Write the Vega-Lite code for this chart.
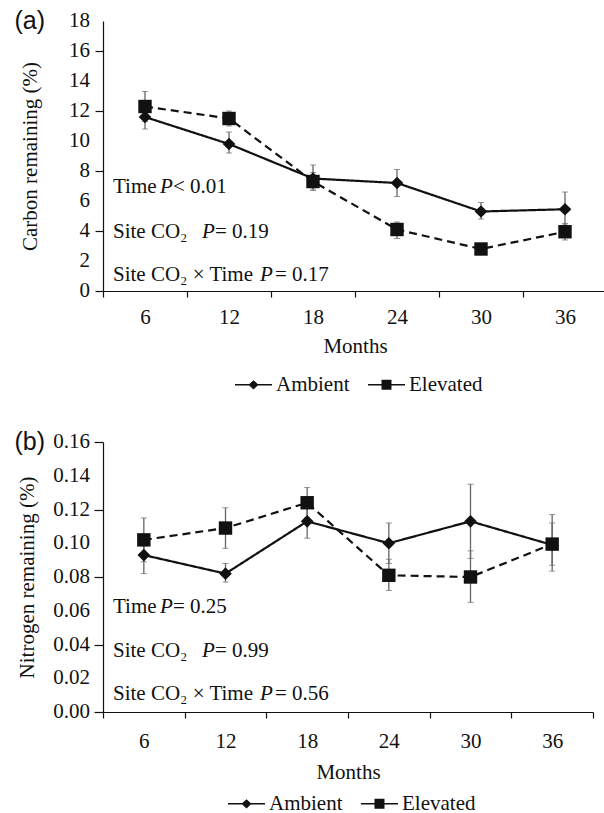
{
  "$schema": "https://vega.github.io/schema/vega-lite/v6.json",
  "background": "white",
  "padding": {"left": 14, "top": 9, "right": 0, "bottom": 0},
  "spacing": 35,
  "config": {
    "font": "Liberation Serif",
    "view": {"stroke": null},
    "axis": {
      "labelFont": "Liberation Serif", "labelFontSize": 21, "labelColor": "#111",
      "titleFont": "Liberation Serif", "titleFontSize": 21, "titleFontWeight": "normal", "titleColor": "#111",
      "domainColor": "#111", "tickColor": "#111", "grid": false, "domainWidth": 1.2, "tickWidth": 1.2
    },
    "legend": {
      "orient": "none", "direction": "horizontal",
      "labelFont": "Liberation Serif", "labelFontSize": 21, "labelColor": "#111",
      "symbolSize": 1369, "labelOffset": 3, "columnPadding": 15,
      "symbolFillColor": "#111", "symbolOpacity": 1
    },
    "text": {"font": "Liberation Serif", "fontSize": 21, "color": "#111", "align": "left", "baseline": "alphabetic"},
    "title": {"font": "Liberation Sans", "fontSize": 25, "fontWeight": "normal", "color": "#111", "anchor": "start", "frame": "bounds"}
  },
  "datasets": {
    "carbon": [
      {"month": 6, "trt": "Ambient", "mean": 11.6, "lo": 10.8, "hi": 12.3},
      {"month": 12, "trt": "Ambient", "mean": 9.8, "lo": 9.2, "hi": 10.6},
      {"month": 18, "trt": "Ambient", "mean": 7.5, "lo": 6.8, "hi": 8.4},
      {"month": 24, "trt": "Ambient", "mean": 7.2, "lo": 6.3, "hi": 8.1},
      {"month": 30, "trt": "Ambient", "mean": 5.3, "lo": 4.8, "hi": 5.9},
      {"month": 36, "trt": "Ambient", "mean": 5.45, "lo": 4.4, "hi": 6.6},
      {"month": 6, "trt": "Elevated", "mean": 12.3, "lo": 11.3, "hi": 13.3},
      {"month": 12, "trt": "Elevated", "mean": 11.5, "lo": 11.0, "hi": 12.0},
      {"month": 18, "trt": "Elevated", "mean": 7.3, "lo": 6.7, "hi": 7.9},
      {"month": 24, "trt": "Elevated", "mean": 4.1, "lo": 3.5, "hi": 4.6},
      {"month": 30, "trt": "Elevated", "mean": 2.8, "lo": 2.5, "hi": 3.1},
      {"month": 36, "trt": "Elevated", "mean": 3.95, "lo": 3.4, "hi": 4.5}
    ],
    "nitrogen": [
      {"month": 6, "trt": "Ambient", "mean": 0.093, "lo": 0.082, "hi": 0.104},
      {"month": 12, "trt": "Ambient", "mean": 0.082, "lo": 0.077, "hi": 0.088},
      {"month": 18, "trt": "Ambient", "mean": 0.113, "lo": 0.103, "hi": 0.121},
      {"month": 24, "trt": "Ambient", "mean": 0.100, "lo": 0.088, "hi": 0.112},
      {"month": 30, "trt": "Ambient", "mean": 0.113, "lo": 0.091, "hi": 0.135},
      {"month": 36, "trt": "Ambient", "mean": 0.099, "lo": 0.087, "hi": 0.112},
      {"month": 6, "trt": "Elevated", "mean": 0.102, "lo": 0.089, "hi": 0.115},
      {"month": 12, "trt": "Elevated", "mean": 0.109, "lo": 0.097, "hi": 0.121},
      {"month": 18, "trt": "Elevated", "mean": 0.124, "lo": 0.115, "hi": 0.133},
      {"month": 24, "trt": "Elevated", "mean": 0.081, "lo": 0.072, "hi": 0.0905},
      {"month": 30, "trt": "Elevated", "mean": 0.080, "lo": 0.065, "hi": 0.0955},
      {"month": 36, "trt": "Elevated", "mean": 0.0995, "lo": 0.0835, "hi": 0.117}
    ],
    "ticksA": [{"v": 0}, {"v": 2}, {"v": 4}, {"v": 6}, {"v": 8}, {"v": 10}, {"v": 12}, {"v": 14}, {"v": 16}, {"v": 18}],
    "ticksB": [{"v": 0}, {"v": 0.02}, {"v": 0.04}, {"v": 0.06}, {"v": 0.08}, {"v": 0.1}, {"v": 0.12}, {"v": 0.14}, {"v": 0.16}]
  },
  "resolve": {
    "scale": {"shape": "independent", "strokeDash": "independent"},
    "legend": {"shape": "independent"}
  },
  "vconcat": [
    {
      "width": 504, "height": 270,
      "title": {"text": "(a)", "dy": 24, "dx": -5, "offset": 0},
      "data": {"name": "carbon"},
      "layer": [
        {
          "encoding": {
            "x": {"field": "month", "type": "ordinal", "scale": {"type": "band", "paddingInner": 0, "paddingOuter": 0},
                  "axis": {"title": "Months", "labelAngle": 0, "tickBand": "extent", "tickSize": 6, "labelPadding": 9, "titlePadding": 8}},
            "y": {"field": "mean", "type": "quantitative", "title": "Carbon remaining (%)",
                  "scale": {"domain": [0, 18], "nice": false},
                  "axis": {"values": [0,2,4,6,8,10,12,14,16,18], "labels": false, "tickSize": 8, "titlePadding": 54}}
          },
          "layer": [
            {"mark": {"type": "line", "color": "#111", "strokeWidth": 2.2},
             "encoding": {
               "detail": {"field": "trt"},
               "strokeDash": {"field": "trt", "type": "nominal", "scale": {"range": [[1, 0], [8, 5]]}, "legend": null}
             }},
            {"mark": {"type": "errorbar", "ticks": {"size": 6, "color": "#666"}, "rule": {"color": "#666", "strokeWidth": 1.3}},
             "encoding": {"y": {"field": "lo", "type": "quantitative"}, "y2": {"field": "hi"}}},
            {"transform": [{"filter": "datum.trt === 'Ambient'"}],
             "mark": {"type": "point", "shape": "diamond", "filled": true, "color": "#111", "opacity": 1, "size": 160}},
            {"transform": [{"filter": "datum.trt === 'Elevated'"}],
             "mark": {"type": "point", "shape": "square", "filled": true, "color": "#111", "opacity": 1, "size": 180}},
            {"transform": [{"filter": "datum.mean < 0"}],
             "mark": {"type": "point", "filled": true, "color": "#111", "opacity": 1, "size": 1369},
             "encoding": {
               "shape": {"field": "trt", "type": "nominal",
                 "scale": {"domain": ["Ambient", "Elevated"], "range": ["M-1,-0.04H1V0.04H-1ZM0,-0.25L0.27,0L0,0.25L-0.27,0Z", "M-1,-0.04H1V0.04H-1ZM-0.27,-0.27H0.27V0.27H-0.27Z"]},
                 "legend": {"title": null, "legendX": 131, "legendY": 344}}
             }}
          ]
        },
        {"data": {"name": "ticksA"}, "mark": {"type": "text", "align": "right", "baseline": "middle", "dx": -13},
         "encoding": {"x": {"datum": 6, "type": "ordinal", "bandPosition": 0}, "y": {"field": "v", "type": "quantitative"}, "text": {"field": "v", "type": "quantitative", "format": "d"}}},
        {"data": {"values": [{}]}, "mark": {"type": "text", "text": "Time", "dx": 10},
         "encoding": {"x": {"datum": 6, "type": "ordinal", "bandPosition": 0}, "y": {"datum": 6.53, "type": "quantitative"}}},
        {"data": {"values": [{}]}, "mark": {"type": "text", "text": "P", "fontStyle": "italic", "dx": 57},
         "encoding": {"x": {"datum": 6, "type": "ordinal", "bandPosition": 0}, "y": {"datum": 6.53, "type": "quantitative"}}},
        {"data": {"values": [{}]}, "mark": {"type": "text", "text": "< 0.01", "dx": 70},
         "encoding": {"x": {"datum": 6, "type": "ordinal", "bandPosition": 0}, "y": {"datum": 6.53, "type": "quantitative"}}},
        {"data": {"values": [{}]}, "mark": {"type": "text", "text": "Site CO₂", "dx": 10},
         "encoding": {"x": {"datum": 6, "type": "ordinal", "bandPosition": 0}, "y": {"datum": 3.53, "type": "quantitative"}}},
        {"data": {"values": [{}]}, "mark": {"type": "text", "text": "P", "fontStyle": "italic", "dx": 99},
         "encoding": {"x": {"datum": 6, "type": "ordinal", "bandPosition": 0}, "y": {"datum": 3.53, "type": "quantitative"}}},
        {"data": {"values": [{}]}, "mark": {"type": "text", "text": "= 0.19", "dx": 112},
         "encoding": {"x": {"datum": 6, "type": "ordinal", "bandPosition": 0}, "y": {"datum": 3.53, "type": "quantitative"}}},
        {"data": {"values": [{}]}, "mark": {"type": "text", "text": "Site CO₂ × Time", "dx": 10},
         "encoding": {"x": {"datum": 6, "type": "ordinal", "bandPosition": 0}, "y": {"datum": 0.67, "type": "quantitative"}}},
        {"data": {"values": [{}]}, "mark": {"type": "text", "text": "P", "fontStyle": "italic", "dx": 157},
         "encoding": {"x": {"datum": 6, "type": "ordinal", "bandPosition": 0}, "y": {"datum": 0.67, "type": "quantitative"}}},
        {"data": {"values": [{}]}, "mark": {"type": "text", "text": "= 0.17", "dx": 172},
         "encoding": {"x": {"datum": 6, "type": "ordinal", "bandPosition": 0}, "y": {"datum": 0.67, "type": "quantitative"}}}
      ]
    },
    {
      "width": 490, "height": 270,
      "title": {"text": "(b)", "dy": 24, "dx": -2, "offset": 0},
      "data": {"name": "nitrogen"},
      "layer": [
        {
          "encoding": {
            "x": {"field": "month", "type": "ordinal", "scale": {"type": "band", "paddingInner": 0, "paddingOuter": 0},
                  "axis": {"title": "Months", "labelAngle": 0, "tickBand": "extent", "tickSize": 6, "labelPadding": 12, "titlePadding": 10}},
            "y": {"field": "mean", "type": "quantitative", "title": "Nitrogen remaining (%)",
                  "scale": {"domain": [0, 0.16], "nice": false},
                  "axis": {"values": [0,0.02,0.04,0.06,0.08,0.1,0.12,0.14,0.16], "labels": false, "tickSize": 9, "titlePadding": 56}}
          },
          "layer": [
            {"mark": {"type": "line", "color": "#111", "strokeWidth": 2.2},
             "encoding": {
               "detail": {"field": "trt"},
               "strokeDash": {"field": "trt", "type": "nominal", "scale": {"range": [[1, 0], [8, 5]]}, "legend": null}
             }},
            {"mark": {"type": "errorbar", "ticks": {"size": 6, "color": "#666"}, "rule": {"color": "#666", "strokeWidth": 1.3}},
             "encoding": {"y": {"field": "lo", "type": "quantitative"}, "y2": {"field": "hi"}}},
            {"transform": [{"filter": "datum.trt === 'Ambient'"}],
             "mark": {"type": "point", "shape": "diamond", "filled": true, "color": "#111", "opacity": 1, "size": 160}},
            {"transform": [{"filter": "datum.trt === 'Elevated'"}],
             "mark": {"type": "point", "shape": "square", "filled": true, "color": "#111", "opacity": 1, "size": 180}},
            {"transform": [{"filter": "datum.mean < 0"}],
             "mark": {"type": "point", "filled": true, "color": "#111", "opacity": 1, "size": 1369},
             "encoding": {
               "shape": {"field": "trt", "type": "nominal",
                 "scale": {"domain": ["Ambient", "Elevated"], "range": ["M-1,-0.04H1V0.04H-1ZM0,-0.25L0.27,0L0,0.25L-0.27,0Z", "M-1,-0.04H1V0.04H-1ZM-0.27,-0.27H0.27V0.27H-0.27Z"]},
                 "legend": {"title": null, "legendX": 124, "legendY": 342}}
             }}
          ]
        },
        {"data": {"name": "ticksB"}, "mark": {"type": "text", "align": "right", "baseline": "middle", "dx": -13},
         "encoding": {"x": {"datum": 6, "type": "ordinal", "bandPosition": 0}, "y": {"field": "v", "type": "quantitative"}, "text": {"field": "v", "type": "quantitative", "format": ".2f"}}},
        {"data": {"values": [{}]}, "mark": {"type": "text", "text": "Time", "dx": 10},
         "encoding": {"x": {"datum": 6, "type": "ordinal", "bandPosition": 0}, "y": {"datum": 0.0587, "type": "quantitative"}}},
        {"data": {"values": [{}]}, "mark": {"type": "text", "text": "P", "fontStyle": "italic", "dx": 57},
         "encoding": {"x": {"datum": 6, "type": "ordinal", "bandPosition": 0}, "y": {"datum": 0.0587, "type": "quantitative"}}},
        {"data": {"values": [{}]}, "mark": {"type": "text", "text": "= 0.25", "dx": 70},
         "encoding": {"x": {"datum": 6, "type": "ordinal", "bandPosition": 0}, "y": {"datum": 0.0587, "type": "quantitative"}}},
        {"data": {"values": [{}]}, "mark": {"type": "text", "text": "Site CO₂", "dx": 10},
         "encoding": {"x": {"datum": 6, "type": "ordinal", "bandPosition": 0}, "y": {"datum": 0.0326, "type": "quantitative"}}},
        {"data": {"values": [{}]}, "mark": {"type": "text", "text": "P", "fontStyle": "italic", "dx": 99},
         "encoding": {"x": {"datum": 6, "type": "ordinal", "bandPosition": 0}, "y": {"datum": 0.0326, "type": "quantitative"}}},
        {"data": {"values": [{}]}, "mark": {"type": "text", "text": "= 0.99", "dx": 112},
         "encoding": {"x": {"datum": 6, "type": "ordinal", "bandPosition": 0}, "y": {"datum": 0.0326, "type": "quantitative"}}},
        {"data": {"values": [{}]}, "mark": {"type": "text", "text": "Site CO₂ × Time", "dx": 10},
         "encoding": {"x": {"datum": 6, "type": "ordinal", "bandPosition": 0}, "y": {"datum": 0.0071, "type": "quantitative"}}},
        {"data": {"values": [{}]}, "mark": {"type": "text", "text": "P", "fontStyle": "italic", "dx": 157},
         "encoding": {"x": {"datum": 6, "type": "ordinal", "bandPosition": 0}, "y": {"datum": 0.0071, "type": "quantitative"}}},
        {"data": {"values": [{}]}, "mark": {"type": "text", "text": "= 0.56", "dx": 172},
         "encoding": {"x": {"datum": 6, "type": "ordinal", "bandPosition": 0}, "y": {"datum": 0.0071, "type": "quantitative"}}}
      ]
    }
  ]
}
